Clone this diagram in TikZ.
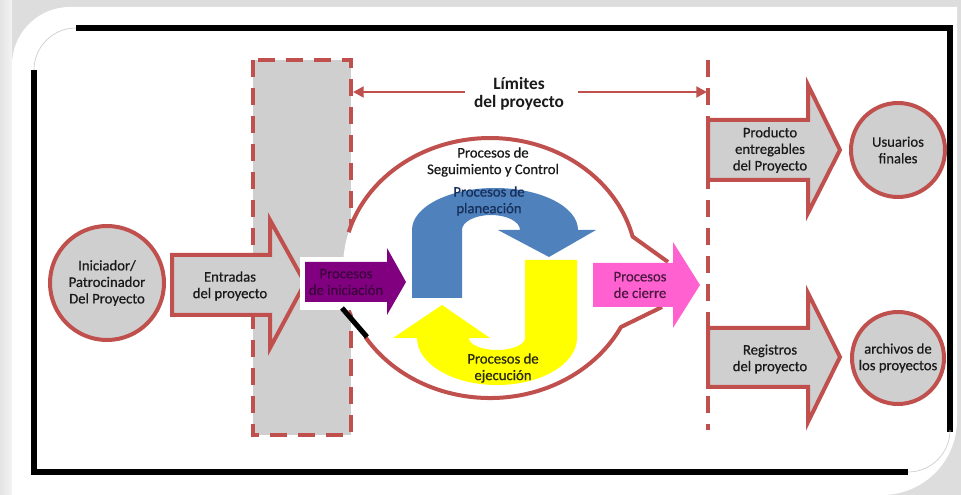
\documentclass[tikz,border=0pt]{standalone}
\usepackage{fontspec}
\setmainfont{Carlito}
\newfontfamily\medfont[FakeBold=0.6]{Carlito}
\usetikzlibrary{arrows.meta}
\definecolor{redc}{HTML}{C0504D}
\definecolor{grayf}{HTML}{CFCFCF}
\definecolor{bgg}{HTML}{DDDDDD}
\definecolor{purplef}{HTML}{800080}
\definecolor{purplet}{HTML}{3E003E}
\definecolor{bluef}{HTML}{4F81BD}
\definecolor{bluet}{HTML}{17305A}
\definecolor{yellowf}{HTML}{FFFF00}
\definecolor{yellowt}{HTML}{2A2A10}
\definecolor{pinkf}{HTML}{FF61D0}
\definecolor{pinkt}{HTML}{4A1840}
\definecolor{txt}{HTML}{1A1A1A}
\begin{document}
\begin{tikzpicture}[x=0.75pt,y=-0.75pt,
  lbl/.style={align=center,inner sep=0pt,text=txt,font=\medfont\fontsize{11}{12.4}\selectfont},
  bigarrow/.style={fill=grayf,draw=redc,line width=3pt,line join=miter},
  endcircle/.style={circle,fill=grayf,draw=redc,line width=3pt,inner sep=0pt,align=center,text=txt,font=\medfont\fontsize{11}{12.4}\selectfont},
  boundary/.style={draw=redc,line width=2.6pt,dash pattern=on 13pt off 8pt},
  limarrow/.style={draw=redc,line width=2.2pt,-{Triangle[length=8pt,width=8pt]}},
  outline/.style={draw=redc,line width=3pt,line join=round}]
\useasboundingbox (0,0) rectangle (961,495);
% background and panel
\fill[bgg] (0,0) rectangle (961,495);
\shade[left color=bgg!80!white, right color=bgg!110!black] (0,0) rectangle (12,495);
\fill[white] (12,495) -- (12,65) arc[start angle=180,end angle=270,radius=58] -- (957,7) -- (957,420) arc[start angle=0,end angle=90,radius=75] -- cycle;
% black frame
\draw[black,line width=4.5pt] (34,70) -- (34,472) -- (908,472);
\draw[black,line width=4.5pt] (950,432) -- (950,28) -- (76,28);
\draw[gray!40,line width=0.5pt] (76,28) arc[start angle=270,end angle=180,radius=42];
\draw[gray!40,line width=0.5pt] (908,472) arc[start angle=90,end angle=0,radius=42];
% project boundary
\path[fill=grayf,boundary] (253,60) rectangle (351,435);
\coordinate (rtop) at (708,60);
\coordinate (rbot) at (708,430);
\draw[boundary] (rtop) -- (rbot);
% limits label
\node[align=center,inner sep=0pt,text=txt,font=\bfseries\fontsize{13}{13.5}\selectfont] (lim) at (519,94) {Límites\\del proyecto};
\coordinate (limLs) at (465,92);
\coordinate (limLe) at (353,92);
\coordinate (limRs) at (578,92);
\coordinate (limRe) at (707,92);
\draw[limarrow] (limLs) -- (limLe);
\draw[limarrow] (limRs) -- (limRe);
% initiator
\node[endcircle,minimum size=85.5pt] (ini) at (107,283) {Iniciador/\\Patrocinador\\Del Proyecto};
\draw[bigarrow] (172,255) -- (270,255) -- (270,220) -- (305,283) -- (270,348) -- (270,315) -- (172,315) -- cycle;
\node[lbl] (entr) at (230,286) {Entradas\\del proyecto};
% monitoring loop
\fill[white] (490,268) ellipse[x radius=147,y radius=130];
\fill[white] (300,257) rectangle (357,310);
\draw[outline] (668,262) -- (632.6,236.6) arc[start angle=-14,end angle=-164,x radius=147,y radius=130];
\draw[outline] (365.3,336.9) arc[start angle=148,end angle=27,x radius=147,y radius=130] -- (662,307);
\draw[black,line width=3.8pt] (342,308) -- (367,337);
\node[lbl] (seg) at (493,162) {Procesos de\\Seguimiento y Control};
% initiation
\fill[purplef] (305,262) -- (387,262) -- (387,248) -- (406,282) -- (387,315) -- (387,302) -- (305,302) -- cycle;
\node[lbl,text=purplet] (inic) at (346,282) {Procesos\\de iniciación};
% planning
\fill[bluef] (412,298) -- (412,230) arc[start angle=180,end angle=360,x radius=83,y radius=42] -- (596,230) -- (549,257) -- (498,230) -- (520,230) arc[start angle=0,end angle=-180,x radius=29,y radius=15] -- (462,298) -- cycle;
\node[lbl,text=bluet] (plan) at (489,201) {Procesos de\\planeación};
% execution
\fill[yellowf] (577,260) -- (577,338) arc[start angle=0,end angle=180,x radius=80,y radius=47] -- (393,338) -- (442,305) -- (490,338) -- (469,338) arc[start angle=180,end angle=0,x radius=28,y radius=12] -- (525,260) -- cycle;
\node[lbl,text=yellowt] (ejec) at (503,368) {Procesos de\\ejecución};
% closing
\fill[pinkf] (593,263) -- (673,263) -- (673,242) -- (700,285) -- (673,328) -- (673,307) -- (593,307) -- cycle;
\node[lbl,text=pinkt] (cier) at (640,285) {Procesos\\de cierre};
% outputs
\draw[bigarrow] (708,120) -- (808,120) -- (808,85) -- (840,150) -- (808,213) -- (808,180) -- (708,180) -- cycle;
\node[lbl] (prod) at (770,150) {Producto\\entregables\\del Proyecto};
\node[endcircle,minimum size=70.5pt] (usu) at (898,150) {Usuarios\\finales};
\draw[bigarrow] (708,328) -- (808,328) -- (808,293) -- (840,357) -- (808,422) -- (808,387) -- (708,387) -- cycle;
\node[lbl] (reg) at (770,359) {Registros\\del proyecto};
\node[endcircle,minimum size=69pt] (arch) at (898,358) {archivos de\\los proyectos};
\end{tikzpicture}
\end{document}
